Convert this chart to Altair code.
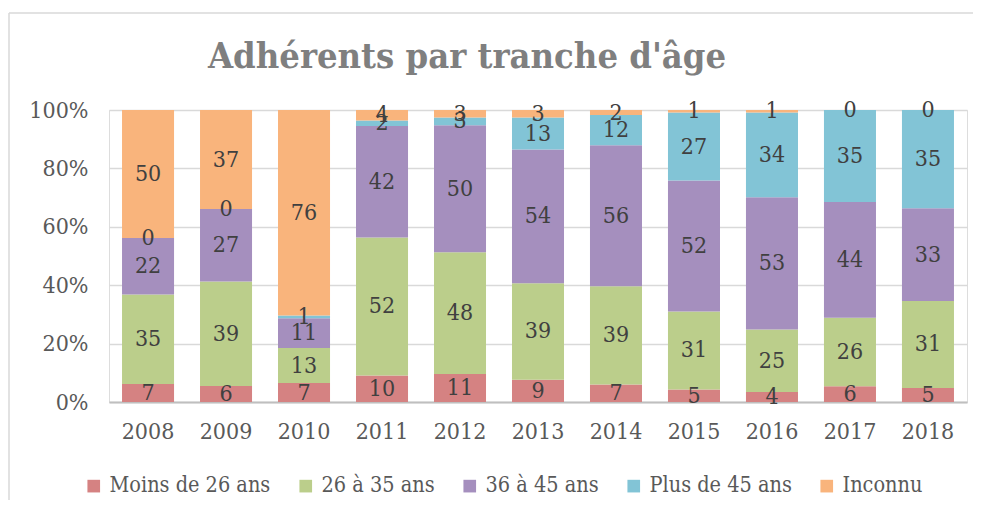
import altair as alt
import pandas as pd

years = ["2008", "2009", "2010", "2011", "2012", "2013", "2014", "2015", "2016", "2017", "2018"]
series = ["Moins de 26 ans", "26 à 35 ans", "36 à 45 ans", "Plus de 45 ans", "Inconnu"]
moins26 = [7, 6, 7, 10, 11, 9, 7, 5, 4, 6, 5]
de26a35 = [35, 39, 13, 52, 48, 39, 39, 31, 25, 26, 31]
de36a45 = [22, 27, 11, 42, 50, 54, 56, 52, 53, 44, 33]
plus45 = [0, 0, 1, 2, 3, 13, 12, 27, 34, 35, 35]
inconnu = [50, 37, 76, 4, 3, 3, 2, 1, 1, 0, 0]
colors = ["#D58282", "#BBCE8B", "#A58FBE", "#82C4D6", "#F9B47C"]
title_text = "Adhérents par tranche d'âge"

FONT = "DejaVu Serif Condensed"

rows = []
vals = [moins26, de26a35, de36a45, plus45, inconnu]
for i, y in enumerate(years):
    total = sum(v[i] for v in vals)
    cum = 0
    for k, s in enumerate(series):
        v = vals[k][i]
        rows.append({"year": y, "serie": s, "idx": k, "value": v,
                     "mid": (cum + v / 2) / total})
        cum += v
df = pd.DataFrame(rows)

xenc = alt.X("year:N", sort=years, title=None,
             scale=alt.Scale(paddingInner=0.333, paddingOuter=0.167),
             axis=alt.Axis(labelAngle=0, labelFont=FONT, labelFontSize=23,
                           labelColor="#595959", ticks=False, labelPadding=18,
                           domainColor="#BFBFBF", domainWidth=2))

bars = alt.Chart(df).mark_bar().encode(
    x=xenc,
    y=alt.Y("value:Q", stack="normalize", title=None,
            scale=alt.Scale(domain=[0, 1]),
            axis=alt.Axis(format=".0%", values=[0, 0.2, 0.4, 0.6, 0.8, 1.0],
                          labelFont=FONT, labelFontSize=23, labelColor="#595959",
                          ticks=False, domain=False, labelPadding=21,
                          gridColor="#D9D9D9", gridWidth=1.5)),
    color=alt.Color("serie:N", sort=series, title=None,
                    scale=alt.Scale(domain=series, range=colors),
                    legend=alt.Legend(orient="none", direction="horizontal",
                                      legendX=-26, legendY=365,
                                      symbolType="square", symbolSize=160,
                                      symbolStrokeWidth=0, symbolOpacity=1,
                                      labelFont=FONT, labelFontSize=21.5,
                                      labelColor="#595959", labelOffset=5,
                                      labelLimit=400, columnPadding=24)),
    order=alt.Order("idx:Q", sort="ascending"),
)

labels = alt.Chart(df).mark_text(font=FONT, fontSize=23, color="#404040",
                                 baseline="middle").encode(
    x=alt.X("year:N", sort=years),
    y=alt.Y("mid:Q"),
    text=alt.Text("value:Q"),
)

frame_df = pd.DataFrame({"k": [0]})
frame_top = alt.Chart(frame_df).mark_rule(stroke="#D9D9D9", strokeWidth=1.5).encode(
    x=alt.value(-100), x2=alt.value(866), y=alt.value(-97))
frame_left = alt.Chart(frame_df).mark_rule(stroke="#D9D9D9", strokeWidth=1.5).encode(
    x=alt.value(-100), y=alt.value(-97), y2=alt.value(400))
title = alt.Chart(frame_df).mark_text(font=FONT, fontSize=36, fontWeight="bold",
                                      color="#7F7F7F", baseline="alphabetic").encode(
    x=alt.value(358), y=alt.value(-42), text=alt.value(title_text))

chart = alt.layer(frame_top, frame_left, bars, labels, title).properties(
    width=858, height=292,
    autosize=alt.AutoSizeParams(type="none"),
    padding={"left": 101, "top": 102, "right": 6, "bottom": 98},
).configure_view(stroke=None).configure(background="white")

chart.save("out.html", embed_options={"renderer": "svg", "actions": False})
